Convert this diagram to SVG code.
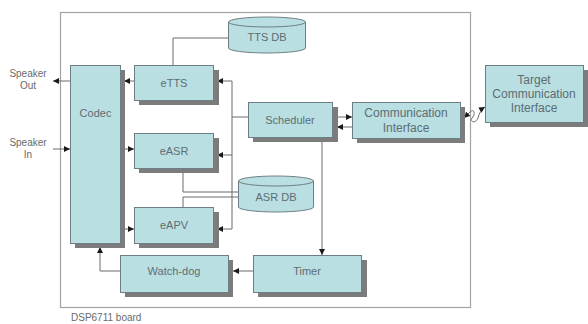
<svg xmlns="http://www.w3.org/2000/svg" width="588" height="324" viewBox="0 0 588 324">
  <style>
    .box { fill: #b9dfe2; stroke: #6d7f84; stroke-width: 1; }
    .shadow { fill: #7c7c7c; }
    .lbl { font-family: "Liberation Sans", Arial, sans-serif; font-size: 11px; fill: #5d6d73; text-anchor: middle; }
    .wide { font-size: 12px; }
    .side { font-family: "Liberation Sans", Arial, sans-serif; font-size: 10px; fill: #6a6a6a; text-anchor: middle; }
    .wire { fill: none; stroke: #6b6b6b; stroke-width: 1; }
    .arrow { fill: none; stroke: #6b6b6b; stroke-width: 1; marker-end: url(#head); }
  </style>
  <defs>
    <marker id="head" viewBox="0 0 10 10" refX="10" refY="5" markerWidth="6" markerHeight="6" markerUnits="userSpaceOnUse" orient="auto">
      <path d="M0,0 L10,5 L0,10 z" fill="#1a1a1a"/>
    </marker>
  </defs>
  <rect width="588" height="324" fill="#ffffff"/>

  <!-- board outline -->
  <g id="board">
    <rect x="60.5" y="12.5" width="410" height="295" fill="none" stroke="#a3a3a3" stroke-width="1.2"/>
    <text x="71" y="321" font-family="Liberation Sans, Arial, sans-serif" font-size="10" fill="#6a6a6a">DSP6711 board</text>
  </g>

  <!-- connectors -->
  <g id="connectors">
    <!-- speaker I/O -->
    <path class="arrow" d="M70,81 H53"/>
    <path class="arrow" d="M53,149 H70"/>
    <!-- codec <-> engines -->
    <path class="arrow" d="M134,81 H124"/>
    <path class="arrow" d="M125,149 H134"/>
    <path class="arrow" d="M125,229 H134"/>
    <!-- scheduler bus -->
    <path class="wire" d="M248,117 H232 M232,81 V229"/>
    <path class="arrow" d="M232,81 H217"/>
    <path class="arrow" d="M232,155 H217"/>
    <path class="arrow" d="M232,229 H217"/>
    <!-- databases -->
    <path class="wire" d="M173,65 V38 H228"/>
    <path class="wire" d="M183,168 V192 H238"/>
    <path class="wire" d="M183,207 V197 H238"/>
    <!-- scheduler <-> communication interface -->
    <path class="arrow" d="M337,117 H352"/>
    <path class="arrow" d="M352,127 H337"/>
    <!-- scheduler -> timer -->
    <path class="arrow" d="M322,142 V255"/>
    <!-- timer -> watch-dog -> codec -->
    <path class="arrow" d="M253,271 H233"/>
    <path class="arrow" d="M120,271 H100 V247"/>
    <!-- serial link to target -->
    <path class="arrow" d="M470,112 L464,118"/>
    <path class="wire" d="M470,112 C474,108 476,114 472,118 C469,122 476,124 478,118"/>
    <path class="arrow" d="M478,118 Q480,110 485,107"/>
  </g>

  <g id="codec">
    <rect class="shadow" x="75" y="70" width="50" height="178"/>
    <rect class="box" x="70.5" y="65.5" width="50" height="178"/>
    <text class="lbl" x="95.5" y="117">Codec</text>
  </g>

  <g id="etts">
    <rect class="shadow" x="139" y="70" width="80" height="35"/>
    <rect class="box" x="134.5" y="65.5" width="79" height="35"/>
    <text class="lbl" x="174" y="87">eTTS</text>
  </g>

  <g id="easr">
    <rect class="shadow" x="139" y="138" width="80" height="35"/>
    <rect class="box" x="134.5" y="133.5" width="79" height="35"/>
    <text class="lbl" x="174" y="155">eASR</text>
  </g>

  <g id="eapv">
    <rect class="shadow" x="139" y="212" width="80" height="36"/>
    <rect class="box" x="134.5" y="207.5" width="79" height="36"/>
    <text class="lbl" x="174" y="229">eAPV</text>
  </g>

  <g id="tts-db">
    <path class="box" d="M228.5,22 V48 A38.5,5 0 0 0 305.5,48 V22"/>
    <ellipse class="box" cx="267" cy="22" rx="38.5" ry="5"/>
    <text class="lbl" x="267" y="41">TTS DB</text>
  </g>

  <g id="asr-db">
    <path class="box" d="M238.5,181 V207 A37.5,5 0 0 0 313.5,207 V181"/>
    <ellipse class="box" cx="276" cy="181" rx="37.5" ry="5"/>
    <text class="lbl" x="276" y="201">ASR DB</text>
  </g>

  <g id="scheduler">
    <rect class="shadow" x="253" y="107" width="85" height="35"/>
    <rect class="box" x="248.5" y="102.5" width="84" height="35"/>
    <text class="lbl" x="290" y="124">Scheduler</text>
  </g>

  <g id="comm-if">
    <rect class="shadow" x="357" y="107" width="108" height="36"/>
    <rect class="box" x="352.5" y="102.5" width="108" height="36"/>
    <text class="lbl wide" x="406" y="117">Communication</text>
    <text class="lbl wide" x="406" y="132">Interface</text>
  </g>

  <g id="target-comm-if">
    <rect class="shadow" x="490" y="70" width="98" height="57"/>
    <rect class="box" x="485.5" y="65.5" width="98" height="57"/>
    <text class="lbl wide" x="534" y="84">Target</text>
    <text class="lbl wide" x="534" y="98">Communication</text>
    <text class="lbl wide" x="534" y="112">Interface</text>
  </g>

  <g id="watchdog">
    <rect class="shadow" x="125" y="260" width="108" height="37"/>
    <rect class="box" x="120.5" y="255.5" width="108" height="37"/>
    <text class="lbl" x="174" y="275">Watch-dog</text>
  </g>

  <g id="timer">
    <rect class="shadow" x="258" y="260" width="109" height="37"/>
    <rect class="box" x="253.5" y="255.5" width="108" height="37"/>
    <text class="lbl" x="307" y="275">Timer</text>
  </g>

  <g id="speaker-labels">
    <text class="side" x="28" y="77">Speaker</text>
    <text class="side" x="28" y="89">Out</text>
    <text class="side" x="28" y="146">Speaker</text>
    <text class="side" x="28" y="158">In</text>
  </g>
</svg>
